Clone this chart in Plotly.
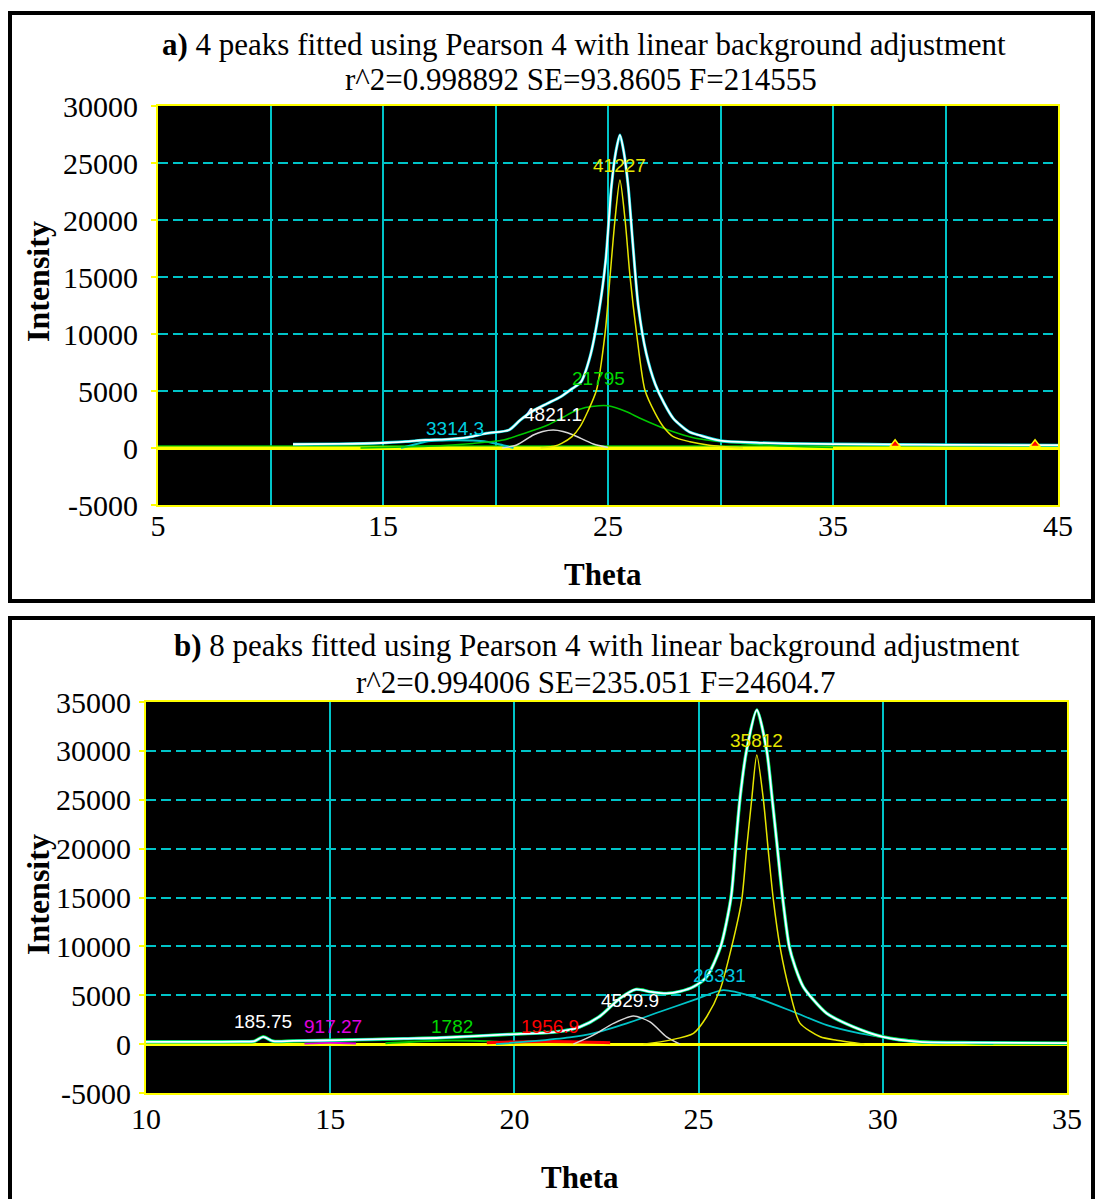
import plotly.graph_objects as go

# ---------------- Panel a data ----------------
a_total_theta = [11.0, 13.0, 14.9, 16.0, 16.9, 17.8, 18.8, 19.6, 20.6, 21.1, 21.7, 22.3, 22.9, 23.4, 23.8,
                 24.2, 24.6, 24.9, 25.15, 25.35, 25.53, 25.7, 25.9, 26.1, 26.35, 26.7, 27.1, 27.5, 27.9,
                 28.6, 29.1, 30.0, 31.6, 33.5, 36.6, 38.0, 40.0, 43.0, 45.0]
a_total_int = [330, 360, 440, 560, 700, 750, 950, 1290, 1580, 2450, 3300, 3900, 4500, 5200, 5800,
               8000, 12000, 16500, 22900, 26000, 27450, 26000, 22900, 18000, 12400, 8300, 5600, 3900, 2600,
               1430, 1100, 640, 470, 380, 320, 300, 280, 260, 250]

a_yellow_theta = [22.0, 22.6, 22.94, 23.4, 23.76, 24.1, 24.49, 24.87, 25.09, 25.31, 25.53, 25.76, 25.98,
                  26.27, 26.64, 27.1, 27.46, 27.9, 28.64, 29.5, 31.0]
a_yellow_int = [0, 150, 410, 1000, 1870, 3200, 5090, 10060, 15030, 20000, 23500, 20000, 15030,
                10060, 5090, 3040, 1870, 1000, 550, 250, 0]

a_green_theta = [14.0, 17.0, 19.0, 20.35, 21.3, 22.3, 23.0, 23.46, 24.0, 24.6, 25.0, 25.83, 26.4, 27.3,
                 27.9, 28.8, 29.4, 30.0, 30.9, 32.5, 35.0]
a_green_int = [0, 150, 400, 700, 1300, 2000, 2700, 3180, 3550, 3710, 3700, 3180, 2630, 1870,
               1430, 900, 700, 550, 410, 200, 50]

a_white_theta = [20.3, 20.94, 21.68, 22.1, 22.57, 23.0, 23.46, 24.35, 25.0]
a_white_int = [0, 260, 1140, 1450, 1580, 1450, 1140, 350, 50]

a_cyan_theta = [15.8, 16.4, 16.9, 17.5, 18.3, 19.0, 19.6, 20.2, 20.8]
a_cyan_int = [0, 300, 550, 650, 680, 650, 550, 300, 0]

a_base_theta = [5, 45]
a_base_int = [0, 0]
a_bg_theta = [5, 45]
a_bg_int = [110, 110]

a_red_theta = [37.76, 43.98]
a_red_int = [320, 320]

a_label_text = ["41227", "21795", "4821.1", "3314.3"]
a_label_theta = [25.53, 24.57, 22.57, 18.2]
a_label_int = [24800, 6110, 2900, 1730]
a_label_color = ["#E6E600", "#00D800", "#FFFFFF", "#00D0E0"]

a_xtick_vals = [5, 10, 15, 20, 25, 30, 35, 40, 45]
a_xtick_text = ["5", "", "15", "", "25", "", "35", "", "45"]
a_ytick_vals = [-5000, 0, 5000, 10000, 15000, 20000, 25000, 30000]
a_ytick_text = ["-5000", "0", "5000", "10000", "15000", "20000", "25000", "30000"]

# ---------------- Panel b data ----------------
b_total_theta = [10.0, 12.6, 12.95, 13.18, 13.45, 14.0, 15.3, 17.0, 18.0, 19.8, 21.15, 21.78, 22.32, 22.87,
                 23.3, 23.7, 24.13, 24.5, 24.86, 25.22, 25.6, 25.88, 26.0, 26.12, 26.3, 26.58, 26.85,
                 27.0, 27.14, 27.28, 27.46, 27.62, 27.84, 28.1, 28.48, 29.2, 30.0, 31.0, 32.5, 35.0]
b_total_int = [240, 250, 300, 750, 300, 330, 410, 560, 650, 990, 1260, 1770, 2850, 4700,
               5600, 5350, 5190, 5400, 5870, 6890, 10000, 15000, 20000, 25000, 30000, 34180, 30000,
               25000, 20000, 15000, 10000, 7900, 5870, 4600, 3140, 1770, 750, 240, 150, 100]

b_yellow_theta = [23.5, 24.22, 24.86, 25.22, 25.58, 25.9, 26.17, 26.3, 26.44, 26.58, 26.76, 26.89, 27.03,
                  27.21, 27.48, 27.75, 28.3, 28.75, 29.5]
b_yellow_int = [0, 410, 1100, 2800, 5530, 10000, 14740, 19850, 24970, 29580, 24970, 19850, 14740,
                9960, 5300, 2150, 750, 400, 0]

b_cyan_theta = [19.5, 20.5, 21.5, 22.14, 23.05, 23.95, 24.86, 25.67, 26.49, 27.57, 28.48, 29.38, 30.29,
                31.5, 33.0]
b_cyan_int = [0, 300, 690, 1100, 2120, 3310, 4500, 5530, 4840, 3310, 1940, 1100, 580, 200, 0]

b_white_theta = [21.6, 22.14, 22.69, 23.23, 23.68, 24.13, 24.5]
b_white_int = [0, 920, 2120, 2870, 2280, 750, 0]

b_red_theta = [19.25, 20.3, 21.5, 22.6]
b_red_int = [150, 250, 250, 150]

b_green_theta = [16.5, 17.5, 18.3, 19.3, 20.0]
b_green_int = [100, 300, 380, 300, 100]

b_magenta_theta = [14.3, 15.0, 15.7]
b_magenta_int = [60, 150, 60]

b_base_theta = [10, 35]
b_base_int = [0, 0]

b_label_text = ["185.75", "917.27", "1782", "1956.9", "4529.9", "26331", "35812"]
b_label_theta = [13.18, 15.08, 18.3, 20.97, 23.14, 25.58, 26.58]
b_label_int = [2280, 1770, 1770, 1770, 4500, 7060, 31100]
b_label_color = ["#FFFFFF", "#E000E0", "#00D800", "#FF0000", "#FFFFFF", "#00C8E0", "#E6E600"]

b_xtick_vals = [10, 15, 20, 25, 30, 35]
b_xtick_text = ["10", "15", "20", "25", "30", "35"]
b_ytick_vals = [-5000, 0, 5000, 10000, 15000, 20000, 25000, 30000, 35000]
b_ytick_text = ["-5000", "0", "5000", "10000", "15000", "20000", "25000", "30000", "35000"]

# ---------------- styling ----------------
W, H = 1096, 1199
SERIF = "Liberation Serif, Times New Roman, serif"
SANS = "Arial, Liberation Sans, sans-serif"
CYAN = "#00C4C8"
YEL = "#FFFF00"


def px(x):
    return x / W


def py(y):
    return 1 - y / H


fig = go.Figure()


def line(xs, ys, color, width, ax, shape="spline"):
    fig.add_trace(go.Scatter(x=xs, y=ys, mode="lines", xaxis=ax[0], yaxis=ax[1],
                             line=dict(color=color, width=width, shape=shape, smoothing=0.7),
                             hoverinfo="skip", showlegend=False))


A = ("x", "y")
B = ("x2", "y2")

# panel a traces
line(a_bg_theta, a_bg_int, "#00C000", 3, A, "linear")
line(a_base_theta, a_base_int, YEL, 3, A, "linear")
line(a_cyan_theta, a_cyan_int, CYAN, 2, A)
line(a_white_theta, a_white_int, "#D8D8D8", 1.5, A)
line(a_green_theta, a_green_int, "#00C800", 1.5, A)
line(a_yellow_theta, a_yellow_int, "#E6E600", 1.5, A)
line(a_total_theta, a_total_int, "#00D8E0", 3, A)
line(a_total_theta, a_total_int, "#FFFFFF", 1.8, A)
fig.add_trace(go.Scatter(x=a_red_theta, y=a_red_int, mode="markers", xaxis="x", yaxis="y",
                         marker=dict(symbol="triangle-up", size=9, color="#FF0000",
                                     line=dict(color=YEL, width=1.5)),
                         hoverinfo="skip", showlegend=False))

# panel b traces
line(b_base_theta, b_base_int, YEL, 2.5, B, "linear")
line(b_magenta_theta, b_magenta_int, "#E000E0", 2, B)
line(b_green_theta, b_green_int, "#00C800", 2, B)
line(b_red_theta, b_red_int, "#FF0000", 3, B)
line(b_cyan_theta, b_cyan_int, CYAN, 1.8, B)
line(b_white_theta, b_white_int, "#D8D8D8", 1.5, B)
line(b_yellow_theta, b_yellow_int, "#E6E600", 1.5, B)
line(b_total_theta, b_total_int, "#00D800", 3.5, B)
line(b_total_theta, b_total_int, "#00D8E0", 2.8, B)
line(b_total_theta, b_total_int, "#FFFFFF", 1.8, B)

annotations = []
for t, xv, yv, c in zip(a_label_text, a_label_theta, a_label_int, a_label_color):
    annotations.append(dict(x=xv, y=yv, xref="x", yref="y", text=t, showarrow=False,
                            font=dict(family=SANS, size=19, color=c)))
for t, xv, yv, c in zip(b_label_text, b_label_theta, b_label_int, b_label_color):
    annotations.append(dict(x=xv, y=yv, xref="x2", yref="y2", text=t, showarrow=False,
                            font=dict(family=SANS, size=19, color=c)))


def paper_text(text, x, y, size, angle=0):
    annotations.append(dict(x=px(x), y=py(y), xref="paper", yref="paper", text=text,
                            showarrow=False, textangle=angle, xanchor="center", yanchor="middle",
                            font=dict(family=SERIF, size=size, color="black")))


paper_text("<b>a)</b> 4 peaks fitted using Pearson 4 with linear background adjustment", 584, 45, 31)
paper_text("r^2=0.998892 SE=93.8605 F=214555", 581, 80, 31)
paper_text("<b>Theta</b>", 603, 575, 31)
paper_text("<b>Intensity</b>", 38, 282, 32, angle=-90)

paper_text("<b>b)</b> 8 peaks fitted using Pearson 4 with linear background adjustment", 597, 645, 31)
paper_text("r^2=0.994006 SE=235.051 F=24604.7", 596, 682, 31)
paper_text("<b>Theta</b>", 580, 1177, 31)
paper_text("<b>Intensity</b>", 38, 895, 32, angle=-90)

shapes = [
    dict(type="rect", xref="paper", yref="paper", x0=px(10), x1=px(1093), y0=py(601), y1=py(13),
         line=dict(color="black", width=4)),
    dict(type="rect", xref="paper", yref="paper", x0=px(10), x1=px(1093), y0=py(1215), y1=py(618),
         line=dict(color="black", width=4)),
]

tickfont = dict(family=SERIF, size=30, color="black")
xcommon = dict(showgrid=True, gridcolor=CYAN, gridwidth=2, showline=True, linecolor=YEL,
               linewidth=2, mirror=True, ticks="", zeroline=False, tickfont=tickfont,
               fixedrange=True, automargin=False)
ycommon = dict(showgrid=True, gridcolor=CYAN, gridwidth=2, griddash="10px,5px", showline=True,
               linecolor=YEL, linewidth=2, mirror=True, ticks="outside", ticklen=5,
               tickcolor=YEL, tickwidth=2, zeroline=True, zerolinecolor=YEL, zerolinewidth=3,
               tickfont=tickfont, fixedrange=True, automargin=False)

fig.update_layout(
    width=W, height=H, margin=dict(l=0, r=0, t=0, b=0, pad=0, autoexpand=False),
    paper_bgcolor="white", plot_bgcolor="black", showlegend=False,
    xaxis=dict(domain=[px(158), px(1058)], range=[5, 45], anchor="y",
               tickmode="array", tickvals=a_xtick_vals, ticktext=a_xtick_text,
               ticklabelstandoff=-7, **xcommon),
    yaxis=dict(domain=[py(505), py(106)], range=[-5000, 30000], anchor="x",
               tickmode="array", tickvals=a_ytick_vals, ticktext=a_ytick_text,
               ticklabelstandoff=7, **ycommon),
    xaxis2=dict(domain=[px(146), px(1067)], range=[10, 35], anchor="y2",
                tickmode="array", tickvals=b_xtick_vals, ticktext=b_xtick_text,
                ticklabelstandoff=-2, **xcommon),
    yaxis2=dict(domain=[py(1093), py(702)], range=[-5000, 35000], anchor="x2",
                tickmode="array", tickvals=b_ytick_vals, ticktext=b_ytick_text,
                ticklabelstandoff=2, **ycommon),
    annotations=annotations,
    shapes=shapes,
)

fig.write_html("out.html", config={"displayModeBar": False},
               post_script="document.body.style.margin='0';document.body.style.overflow='hidden';")
